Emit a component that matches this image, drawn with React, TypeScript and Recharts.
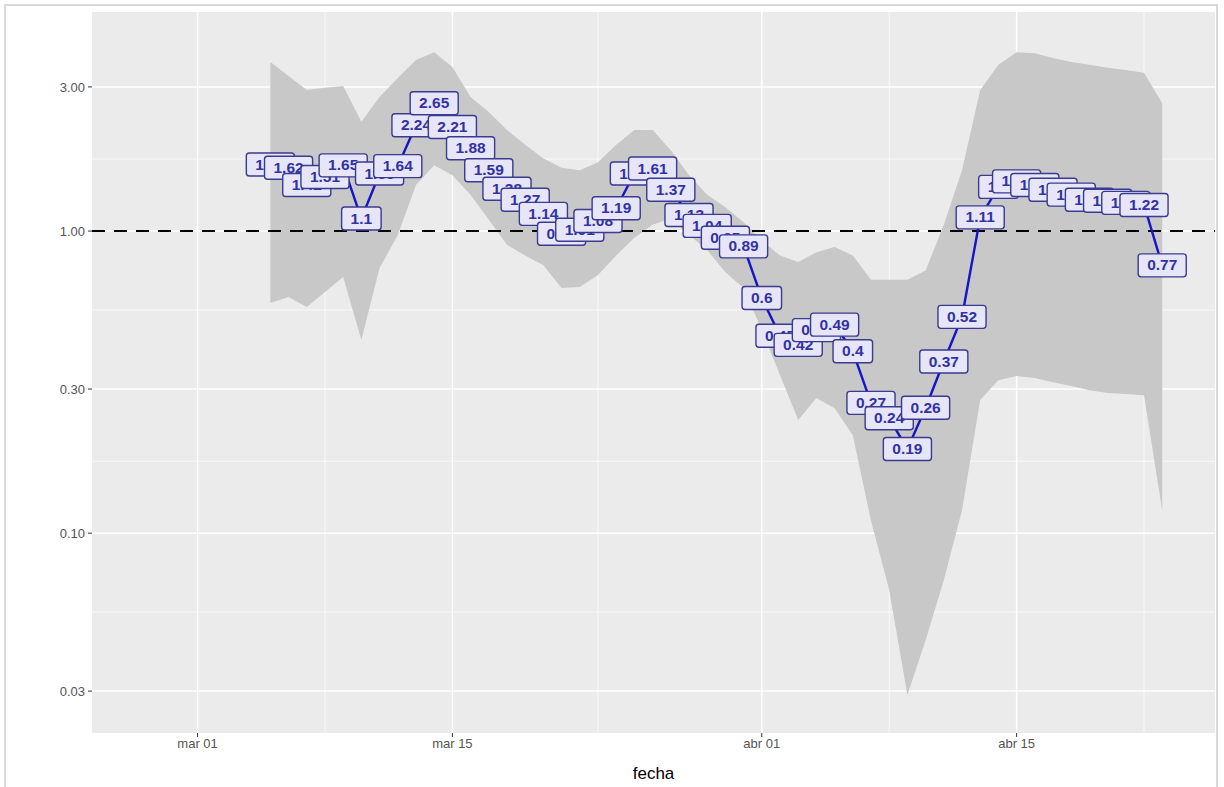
import React from 'react';
import {
  ComposedChart,
  Area,
  Line,
  XAxis,
  YAxis,
  CartesianGrid,
  ReferenceLine,
  LabelList,
} from 'recharts';

// fechas (2020), one estimate per day
const fechas = [
  '03-05', '03-06', '03-07', '03-08', '03-09', '03-10', '03-11', '03-12', '03-13', '03-14',
  '03-15', '03-16', '03-17', '03-18', '03-19', '03-20', '03-21', '03-22', '03-23', '03-24',
  '03-25', '03-26', '03-27', '03-28', '03-29', '03-30', '03-31', '04-01', '04-02', '04-03',
  '04-04', '04-05', '04-06', '04-07', '04-08', '04-09', '04-10', '04-11', '04-12', '04-13',
  '04-14', '04-15', '04-16', '04-17', '04-18', '04-19', '04-20', '04-21', '04-22', '04-23',
];

const r = [
  1.66, 1.62, 1.42, 1.51, 1.65, 1.1, 1.55, 1.64, 2.24, 2.65,
  2.21, 1.88, 1.59, 1.38, 1.27, 1.14, 0.98, 1.01, 1.08, 1.19,
  1.55, 1.61, 1.37, 1.13, 1.04, 0.95, 0.89, 0.6, 0.45, 0.42,
  0.47, 0.49, 0.4, 0.27, 0.24, 0.19, 0.26, 0.37, 0.52, 1.11,
  1.4, 1.46, 1.42, 1.37, 1.32, 1.27, 1.26, 1.24, 1.22, 0.77,
];

const lower = [
  0.578, 0.605, 0.56, 0.628, 0.704, 0.436, 0.754, 0.97, 1.42, 1.65,
  1.53, 1.32, 1.09, 0.9, 0.83, 0.77, 0.648, 0.653, 0.715, 0.83,
  0.95, 1.05, 1.1, 0.97, 0.865, 0.73, 0.648, 0.47, 0.334, 0.237,
  0.28, 0.259, 0.211, 0.11, 0.0648, 0.0291, 0.0442, 0.0698, 0.119, 0.276,
  0.321, 0.331, 0.326, 0.316, 0.307, 0.297, 0.291, 0.289, 0.286, 0.119,
];

const upper = [
  3.63, 3.26, 2.93, 2.98, 3.02, 2.3, 2.78, 3.21, 3.68, 3.91,
  3.49, 2.78, 2.48, 2.16, 1.93, 1.74, 1.62, 1.59, 1.69, 1.93,
  2.16, 2.16, 1.85, 1.53, 1.32, 1.2, 1.07, 0.93, 0.83, 0.79,
  0.85, 0.885, 0.83, 0.69, 0.69, 0.69, 0.74, 1.05, 1.59, 2.93,
  3.55, 3.91, 3.88, 3.74, 3.63, 3.55, 3.47, 3.41, 3.34, 2.65,
];

const xTicks = ['03-01', '03-15', '04-01', '04-15'];
const xTickLabels = ['mar 01', 'mar 15', 'abr 01', 'abr 15'];
const xMinor = ['02-23', '03-08', '03-23', '04-08', '04-22'];
const yTicks = [0.03, 0.1, 0.3, 1, 3];
const yMinor = [0.0548, 0.173, 0.548, 1.732];

// days since mar 01
const toDay = (md: string) => {
  const [m, d] = md.split('-').map(Number);
  return (m === 2 ? -29 : m === 3 ? 0 : 31) + d - 1;
};

const data = fechas.map((f, i) => ({
  day: toDay(f),
  r: r[i],
  band: [lower[i], upper[i]],
}));

const fmtLabel = (v: number) => String(Number(v.toFixed(2)));

const RLabel = (props: any) => {
  const { x, y, value } = props;
  if (x == null || y == null) return null;
  const txt = fmtLabel(Number(value));
  // rough bold glyph widths at 15.5px
  const textW = txt.split('').reduce((s, c) => s + (c === '.' ? 4.3 : 8.6), 0);
  const w = textW + 18;
  return (
    <g>
      <rect
        x={x - w / 2}
        y={y - 11.5}
        width={w}
        height={23}
        rx={3}
        fill="#E6E6F8"
        stroke="#3A3A90"
        strokeWidth={1.4}
      />
      <text
        x={x}
        y={y + 1}
        textAnchor="middle"
        dominantBaseline="middle"
        fontSize={15.5}
        fontWeight="bold"
        fill="#3232A2"
        fontFamily="Liberation Sans, Arial, sans-serif"
      >
        {txt}
      </text>
    </g>
  );
};

export default function App() {
  return (
    <div
      style={{
        position: 'absolute',
        left: 0,
        top: 0,
        width: 1224,
        height: 787,
        background: '#fff',
        fontFamily: 'Liberation Sans, Arial, sans-serif',
      }}
    >
      <div
        style={{
          position: 'absolute',
          left: 4,
          top: 4,
          width: 1214,
          height: 790,
          border: '2px solid #d9d9d9',
          borderBottom: 'none',
          boxSizing: 'border-box',
        }}
      />
      <ComposedChart
        width={1224}
        height={787}
        data={data}
        margin={{ top: 12, right: 9, bottom: 0, left: 0 }}
        style={{ position: 'absolute', left: 0, top: 0 }}
      >
        <CartesianGrid
          fill="#EBEBEB"
          stroke="#ffffff"
          strokeWidth={0.7}
          horizontalValues={yMinor}
          verticalValues={xMinor.map(toDay)}
        />
        <CartesianGrid
          stroke="#ffffff"
          strokeWidth={1.5}
          horizontalValues={yTicks}
          verticalValues={xTicks.map(toDay)}
        />
        <XAxis
          type="number"
          dataKey="day"
          domain={[-5.8, 55.9]}
          allowDataOverflow
          ticks={xTicks.map(toDay)}
          tickFormatter={(v: number) => xTickLabels[xTicks.map(toDay).indexOf(v)]}
          height={54}
          tickSize={4}
          tickMargin={2}
          axisLine={false}
          tickLine={{ stroke: '#333' }}
          tick={{ fill: '#555', fontSize: 13 }}
          label={{ value: 'fecha', position: 'insideBottom', offset: 8, fill: '#000', fontSize: 17 }}
        />
        <YAxis
          scale="log"
          domain={[0.0218, 5.31]}
          allowDataOverflow
          ticks={yTicks}
          tickFormatter={(v: number) => v.toFixed(2)}
          width={92}
          tickSize={4}
          tickMargin={3}
          axisLine={false}
          tickLine={{ stroke: '#333' }}
          tick={{ fill: '#555', fontSize: 13 }}
        />
        <Area
          dataKey="band"
          type="linear"
          stroke="none"
          fill="#C8C8C8"
          fillOpacity={1}
          isAnimationActive={false}
        />
        <ReferenceLine y={1} stroke="#000" strokeWidth={2} strokeDasharray="13 9" />
        <Line
          dataKey="r"
          type="linear"
          stroke="#1414C8"
          strokeWidth={2.4}
          dot={false}
          isAnimationActive={false}
        >
          <LabelList dataKey="r" content={RLabel} />
        </Line>
      </ComposedChart>
    </div>
  );
}
